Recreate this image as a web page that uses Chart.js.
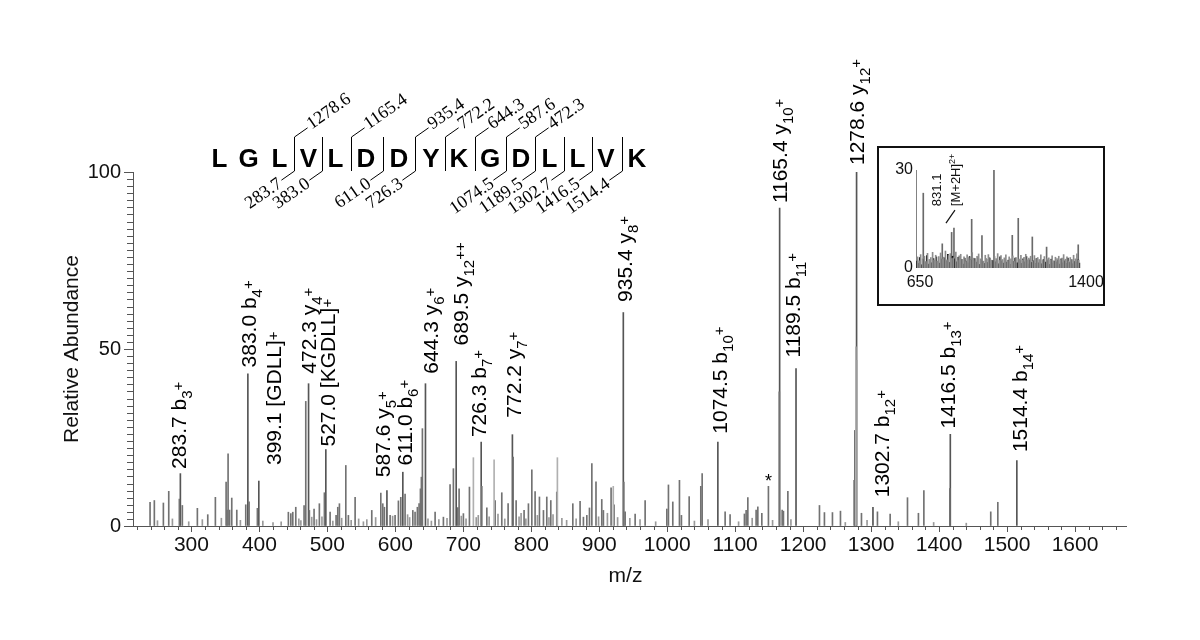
<!DOCTYPE html>
<html>
<head>
<meta charset="utf-8">
<script src="https://cdn.jsdelivr.net/npm/chart.js@4.4.1/dist/chart.umd.min.js"></script>
<style>
  html, body { margin: 0; padding: 0; background: #fff; }
  #wrap { position: relative; width: 1200px; height: 640px; }
  #main { position: absolute; left: 0; top: 0; }
  #inset { position: absolute; left: 877px; top: 146px; }
</style>
</head>
<body>
<div id="wrap">
  <canvas id="main" width="1200" height="640"></canvas>
  <canvas id="inset" width="228" height="160"></canvas>
</div>
<script>
const SANS = '"Liberation Sans", Arial, sans-serif';
const SERIF = '"Liberation Serif", "Times New Roman", serif';

// labelled fragment ions (m/z, relative abundance, label)
const ionMz = [283.7, 383.0, 399.1, 472.3, 497.7, 587.6, 611.0, 644.3, 689.5, 726.3, 772.2, 935.4, 1074.5, 1165.4, 1189.5, 1278.6, 1302.7, 1416.5, 1514.4];
const ionAbund = [14.8, 43.0, 12.7, 40.2, 21.6, 10.0, 15.2, 40.2, 46.5, 23.7, 25.8, 60.3, 23.7, 89.8, 44.5, 100, 5.3, 25.9, 18.5];
const ionLabels = ['283.7 b_3^+', '383.0 b_4^+', '399.1 [GDLL]^+', '472.3 y_4^+', '527.0 [KGDLL]^+', '587.6 y_5^+', '611.0 b_6^+',
  '644.3 y_6^+', '689.5 y_12^++', '726.3 b_7^+', '772.2 y_7^+', '935.4 y_8^+', '1074.5 b_10^+', '1165.4 y_10^+', '1189.5 b_11^+',
  '1278.6 y_12^+', '1302.7 b_12^+', '1416.5 b_13^+', '1514.4 b_14^+'];

// other peaks
const otherMz = [239.1, 245.4, 258.7, 266.6, 282.2, 286.6, 308.7, 324.0, 335.2, 351.0, 352.4, 353.9, 356.1, 359.3, 366.7, 379.9, 384.8, 397.0,
  442.6, 446.2, 449.1, 453.5, 465.7, 468.2, 473.5, 480.4, 488.2, 495.6, 504.0, 512.8, 515.3, 517.7, 527.1, 530.9, 540.8, 565.3,
  578.6, 581.5, 583.9, 592.3, 599.6, 604.5, 608.0, 614.3, 625.7, 629.0, 632.4, 634.9, 636.9, 638.3, 639.8, 658.5, 670.7, 680.5,
  685.4, 691.9, 693.8, 700.1, 709.0, 727.2, 734.6, 746.8, 756.6, 765.9, 773.3, 777.7, 789.4, 795.8, 800.8, 805.6, 812.0,
  817.9, 822.8, 828.7, 837.5, 861.1, 871.8, 876.7, 881.7, 885.6, 889.1, 895.2, 903.7, 906.1, 917.4, 921.8, 936.1, 938.1,
  952.8, 967.5, 999.4, 1001.8, 1008.2, 1018.0, 1020.9, 1032.3, 1049.4, 1051.4, 1085.2, 1092.5, 1113.6, 1116.1, 1118.6, 1130.8,
  1133.3, 1139.2, 1148.9, 1164.9, 1169.1, 1171.0, 1177.5, 1224.0, 1231.3, 1243.1, 1254.9, 1275.0, 1276.0, 1278.2, 1285.8,
  1309.3, 1328.0, 1353.5, 1369.6, 1377.6, 1415.8, 1476.0, 1486.4];
const otherAbund = [6.7, 7.2, 6.5, 9.8, 7.6, 5.8, 5.0, 3.2, 8.1, 12.4, 4.5, 20.4, 4.5, 7.9, 4.5, 6.0, 6.8, 5.0,
  3.9, 3.5, 3.9, 5.3, 5.8, 35.2, 4.4, 4.8, 6.3, 9.4, 3.9, 3.0, 5.3, 6.3, 17.1, 3.0, 8.1, 4.4,
  9.3, 6.3, 5.3, 3.0, 3.0, 7.1, 8.1, 9.0, 4.4, 3.9, 5.3, 6.3, 10.5, 13.8, 27.5, 3.9, 2.5, 11.7,
  16.2, 5.2, 10.5, 3.5, 11.0, 11.2, 5.1, 7.2, 9.4, 6.3, 19.5, 7.2, 4.4, 6.3, 15.9, 9.7, 8.2,
  4.4, 8.2, 7.2, 9.6, 6.3, 7.0, 2.5, 3.0, 5.1, 17.6, 12.5, 7.5, 4.4, 10.8, 6.0, 12.4, 4.0,
  3.4, 7.2, 4.8, 11.6, 6.8, 12.9, 3.0, 8.3, 11.2, 14.8, 4.0, 3.2, 3.4, 4.4, 8.0, 4.5,
  5.4, 3.6, 11.2, 37.9, 4.5, 4.2, 9.8, 5.8, 3.8, 3.8, 4.2, 12.9, 27.0, 46.8, 3.6,
  4.0, 3.4, 8.0, 3.6, 10.0, 10.6, 4.0, 6.7];

// lighter grey peaks
const lightMz = [714.8, 745.3, 838.4, 920.6, 1277.5];
const lightAbund = [19.3, 18.7, 19.3, 11.2, 50.6];

// small baseline peaks
const smallMz = [250, 272, 296, 316, 344, 372, 405, 420, 432, 458, 461, 477, 484, 492, 508, 521, 535, 546, 553, 558, 571, 596, 618, 621,
  648, 653, 664, 676, 697, 704, 719, 722, 738, 751, 761, 782, 785, 792, 809, 826, 832, 845, 852, 866, 899, 912, 927, 945, 960,
  983, 1040, 1060, 1105, 1125, 1155, 1182, 1262, 1294, 1340, 1392, 1440];
const smallAbund = [1.5, 2.0, 1.2, 1.8, 2.2, 1.6, 1.4, 1.0, 1.2, 2.0, 1.5, 2.5, 1.8, 2.6, 1.4, 2.2, 1.6, 2.0, 1.2, 1.8, 2.4, 2.8, 3.2, 2.4,
  2.0, 1.4, 1.8, 2.2, 2.8, 2.0, 2.4, 3.0, 2.6, 3.4, 2.0, 2.6, 3.6, 2.0, 3.0, 2.4, 3.2, 2.2, 1.6, 2.0, 2.6, 3.6, 2.4, 2.2, 1.8,
  1.2, 1.4, 1.8, 1.2, 2.2, 1.6, 1.8, 1.0, 1.6, 1.2, 1.0, 0.8];

const starMz = 1148.9;
const starAbund = 11.2;

const xTicks = [300, 400, 500, 600, 700, 800, 900, 1000, 1100, 1200, 1300, 1400, 1500, 1600];
const yTicks = [0, 50, 100];

// peptide sequence and fragment ladder
const sequence = 'LGLVLDDYKGDLLVK';
const bIonSite = [3, 4, 6, 7, 10, 11, 12, 13, 14];
const bIonMz = ['283.7', '383.0', '611.0', '726.3', '1074.5', '1189.5', '1302.7', '1416.5', '1514.4'];
const yIonSite = [3, 5, 7, 8, 9, 10, 11];
const yIonMz = ['1278.6', '1165.4', '935.4', '772.2', '644.3', '587.6', '472.3'];

// inset: survey spectrum 650-1400
const insetMz = [650, 682.9, 768.7, 811, 821.5, 901.5, 948, 1002.2, 1085, 1112, 1175.5, 1240, 1383];
const insetAbund = [30, 22.9, 7.4, 10.9, 12.2, 14.9, 9.9, 30.8, 10, 15.2, 9.5, 6.4, 7.1];
const insetDarkMz = [654, 661, 667, 676, 684, 691, 699, 706, 713, 721, 729, 735, 742, 750, 757, 764, 772, 779, 786, 794,
  801, 808, 815, 826, 834, 841, 848, 856, 863, 870, 877, 885, 892, 899, 908, 915, 922, 930, 937, 944,
  952, 959, 966, 973, 981, 988, 996, 1008, 1015, 1023, 1030, 1038, 1045, 1052, 1060, 1067, 1075, 1091, 1098, 1106,
  1120, 1127, 1134, 1142, 1149, 1157, 1164, 1171, 1181, 1188, 1196, 1203, 1211, 1218, 1226, 1233, 1246, 1253, 1261, 1268,
  1276, 1283, 1291, 1298, 1306, 1313, 1321, 1328, 1336, 1343, 1351, 1358, 1366, 1373, 1380, 1388];
const insetDarkAbund = [2.1, 1.4, 3.2, 1.0, 2.6, 1.8, 3.8, 1.2, 2.4, 1.6, 2.9, 1.1, 3.4, 2.0, 1.5, 2.7, 1.3, 3.1, 2.2, 4.2,
  1.7, 2.5, 3.6, 2.8, 1.9, 3.3, 1.4, 2.6, 1.2, 3.0, 2.1, 1.6, 3.5, 2.4, 1.3, 2.9, 1.8, 3.2, 1.1, 2.5,
  2.0, 1.4, 2.8, 1.7, 3.1, 1.2, 2.3, 1.9, 2.6, 1.3, 3.4, 2.2, 1.5, 2.7, 1.8, 2.4, 1.1, 2.0, 3.0, 1.6,
  2.3, 1.4, 2.8, 1.9, 3.5, 1.2, 2.5, 1.7, 2.2, 1.4, 2.9, 1.6, 2.0, 1.3, 2.6, 1.8, 2.3, 1.1, 2.7, 1.5,
  2.1, 1.9, 2.4, 1.2, 2.8, 1.6, 2.2, 1.4, 3.0, 1.7, 2.5, 1.3, 2.0, 1.8, 2.6, 1.5];
const insetGreyMz = [657, 664, 671, 680, 688, 695, 702, 710, 717, 725, 732, 739, 746, 753, 761, 768, 775, 783, 790, 797,
  805, 812, 819, 830, 838, 845, 852, 859, 867, 874, 881, 889, 896, 904, 911, 919, 926, 933, 941, 948,
  955, 963, 970, 977, 985, 992, 1005, 1012, 1019, 1027, 1034, 1041, 1049, 1056, 1064, 1071, 1079, 1087, 1094, 1102,
  1116, 1124, 1131, 1138, 1146, 1153, 1160, 1168, 1177, 1185, 1192, 1200, 1207, 1214, 1222, 1230, 1242, 1250, 1257, 1265,
  1272, 1280, 1287, 1295, 1302, 1310, 1317, 1325, 1332, 1340, 1347, 1355, 1362, 1370, 1377, 1385];
const insetGreyAbund = [3.4, 2.2, 4.1, 2.8, 3.6, 2.0, 4.5, 2.6, 3.2, 4.8, 2.4, 3.9, 2.1, 3.5, 4.6, 2.7, 3.3, 5.2, 2.5, 3.8,
  4.4, 2.9, 3.1, 4.9, 2.3, 3.7, 4.2, 2.6, 3.4, 2.0, 4.0, 3.2, 2.5, 4.7, 3.0, 2.2, 3.6, 4.3, 2.8, 3.3,
  2.1, 3.9, 2.7, 4.1, 3.0, 2.4, 3.5, 2.9, 4.4, 2.3, 3.8, 2.6, 3.1, 4.0, 2.2, 3.4, 2.8, 3.7, 2.0, 3.2,
  2.7, 3.9, 2.4, 3.3, 4.2, 2.5, 3.0, 3.6, 2.1, 3.8, 2.9, 3.2, 2.6, 4.0, 2.3, 3.5, 2.8, 3.1, 2.4, 3.7,
  2.2, 3.3, 2.9, 3.6, 2.5, 3.0, 4.1, 2.7, 3.4, 2.1, 3.2, 2.6, 3.9, 2.8, 4.3, 2.4];
const precursorMz = 821.5;
const precursorAbund = 12.2;

// label placement (pixels): horizontal offset of text from its peak and gap above peak
const ionLabelDx = [-1.7, 0.6, 15, 0.3, 2, -4.3, 2, 4.6, 4, -2.8, 0.7, 1, 1.8, 0, -3.4, 0, 8.5, -2.7, 2.2];
const ionLabelGap = [4.7, 6.3, 16, 10, 3, 13.4, 6.8, 10, 16, 5, 17, 10.6, 8.4, 5, 11, 7, 10, 5.7, 8.4];
const seqX = [219.5, 248.5, 279.5, 308.5, 335.5, 366, 399, 431, 459, 490, 521, 549.5, 577.5, 606, 637];

const toPoints = (mz, ab) => mz.map((m, i) => ({ x: m, y: ab[i] }));
const plainNumber = v => String(v);

function parseLabel(s) {
  const m = s.match(/^([^_^]*)(?:_([^^]*))?(?:\^(.*))?$/);
  return { main: m[1], sub: m[2] || '', sup: m[3] || '' };
}

const whiteBg = {
  id: 'whiteBg',
  beforeDraw(chart) {
    const ctx = chart.ctx;
    ctx.save();
    ctx.fillStyle = '#fff';
    ctx.fillRect(0, 0, chart.width, chart.height);
    ctx.restore();
  }
};

// tick marks: major + minor
const axisTicks = {
  id: 'axisTicks',
  afterDraw(chart) {
    const { ctx } = chart;
    const x = chart.scales.x, y = chart.scales.y;
    ctx.save();
    ctx.strokeStyle = '#555';
    ctx.lineWidth = 1;
    ctx.beginPath();
    for (let v = 220; v <= x.max; v += 20) {
      const px = Math.round(x.getPixelForValue(v)) + 0.5;
      const len = v % 100 === 0 ? 6 : 4;
      ctx.moveTo(px, y.bottom);
      ctx.lineTo(px, y.bottom + len);
    }
    for (let v = 0; v <= 100; v += 2) {
      const py = Math.round(y.getPixelForValue(v)) + 0.5;
      const len = v % 50 === 0 ? 9 : 6;
      ctx.moveTo(x.left - len, py);
      ctx.lineTo(x.left, py);
    }
    ctx.stroke();

    // axis titles
    ctx.fillStyle = '#111';
    ctx.font = `21px ${SANS}`;
    ctx.textAlign = 'center';
    ctx.textBaseline = 'middle';
    ctx.fillText('m/z', (x.left + x.right) / 2 - 4, 576);
    ctx.translate(72, (y.top + y.bottom) / 2);
    ctx.rotate(-Math.PI / 2);
    ctx.fillText('Relative Abundance', 0, 0);
    ctx.restore();
  }
};

const peakLabels = {
  id: 'peakLabels',
  afterDatasetsDraw(chart) {
    const { ctx } = chart;
    const x = chart.scales.x, y = chart.scales.y;
    ctx.save();
    ctx.fillStyle = '#000';
    ctx.textAlign = 'left';
    ctx.textBaseline = 'alphabetic';
    ionLabels.forEach((s, i) => {
      const p = parseLabel(s);
      const px = x.getPixelForValue(ionMz[i]) + ionLabelDx[i] + 7.5;
      const py = y.getPixelForValue(ionAbund[i]) - ionLabelGap[i];
      ctx.save();
      ctx.translate(px, py);
      ctx.rotate(-Math.PI / 2);
      ctx.font = `21px ${SANS}`;
      ctx.fillText(p.main, 0, 0);
      let u = ctx.measureText(p.main).width;
      ctx.font = `15px ${SANS}`;
      if (p.sub) { ctx.fillText(p.sub, u, 6); u += ctx.measureText(p.sub).width; }
      if (p.sup) { ctx.fillText(p.sup, u, -3); }
      ctx.restore();
    });
    // asterisk
    ctx.font = `18px ${SANS}`;
    ctx.textAlign = 'center';
    ctx.fillText('*', x.getPixelForValue(starMz), y.getPixelForValue(starAbund) + 1);
    ctx.restore();
  }
};

const sequenceLadder = {
  id: 'sequenceLadder',
  afterDraw(chart) {
    const { ctx } = chart;
    const top = 137, bottom = 171, L = 16, a = 35 * Math.PI / 180;
    ctx.save();
    ctx.fillStyle = '#000';
    ctx.font = `bold 26px ${SANS}`;
    ctx.textAlign = 'center';
    ctx.textBaseline = 'alphabetic';
    sequence.split('').forEach((c, i) => ctx.fillText(c, seqX[i], 167));

    const siteX = k => (seqX[k - 1] + seqX[k]) / 2;
    const sites = new Set([...bIonSite, ...yIonSite]);
    ctx.strokeStyle = '#000';
    ctx.lineWidth = 1;
    ctx.beginPath();
    sites.forEach(k => {
      const bx = Math.round(siteX(k)) + 0.5;
      ctx.moveTo(bx, top);
      ctx.lineTo(bx, bottom);
    });
    ctx.stroke();

    ctx.font = `18px ${SERIF}`;
    ctx.textBaseline = 'middle';
    yIonSite.forEach((k, i) => {
      const bx = Math.round(siteX(k)) + 0.5;
      const ex = bx + L * Math.cos(a), ey = top - L * Math.sin(a);
      ctx.beginPath(); ctx.moveTo(bx, top); ctx.lineTo(ex, ey); ctx.stroke();
      ctx.save();
      ctx.translate(ex, ey);
      ctx.rotate(-a);
      ctx.textAlign = 'left';
      ctx.fillText(yIonMz[i], 2, -1);
      ctx.restore();
    });
    bIonSite.forEach((k, i) => {
      const bx = Math.round(siteX(k)) + 0.5;
      const ex = bx - L * Math.cos(a), ey = bottom + L * Math.sin(a);
      ctx.beginPath(); ctx.moveTo(bx, bottom); ctx.lineTo(ex, ey); ctx.stroke();
      ctx.save();
      ctx.translate(ex, ey);
      ctx.rotate(-a);
      ctx.textAlign = 'right';
      ctx.fillText(bIonMz[i], -2, 1);
      ctx.restore();
    });
    ctx.restore();
  }
};

const barDefaults = { barThickness: 1, grouped: false, borderWidth: 0 };

new Chart(document.getElementById('main'), {
  type: 'bar',
  data: {
    datasets: [
      { data: toPoints(smallMz, smallAbund), backgroundColor: '#999', ...barDefaults },
      { data: toPoints(lightMz, lightAbund), backgroundColor: '#b0b0b0', ...barDefaults },
      { data: toPoints(otherMz, otherAbund), backgroundColor: '#727272', ...barDefaults },
      { data: toPoints(ionMz, ionAbund), backgroundColor: '#555', ...barDefaults }
    ]
  },
  options: {
    responsive: false,
    animation: false,
    devicePixelRatio: 1,
    layout: { padding: { left: 0, top: 172, right: 74, bottom: 0 } },
    plugins: { legend: { display: false }, tooltip: { enabled: false } },
    scales: {
      x: {
        type: 'linear', min: 214, max: 1675, offset: false,
        afterBuildTicks: s => { s.ticks = xTicks.map(v => ({ value: v })); },
        afterFit: s => { s.height = 114; },
        grid: { display: true, drawOnChartArea: false, drawTicks: false },
        border: { color: '#555', width: 1 },
        ticks: { font: { size: 21, family: SANS }, color: '#111', padding: 7, maxRotation: 0, autoSkip: false, callback: plainNumber }
      },
      y: {
        min: 0, max: 100,
        afterBuildTicks: s => { s.ticks = yTicks.map(v => ({ value: v })); },
        afterFit: s => { s.width = 133; },
        grid: { display: true, drawOnChartArea: false, drawTicks: false },
        border: { color: '#555', width: 1 },
        ticks: { font: { size: 20, family: SANS }, color: '#111', padding: 12, callback: plainNumber }
      }
    }
  },
  plugins: [whiteBg, axisTicks, peakLabels, sequenceLadder]
});

const insetFrame = {
  id: 'insetFrame',
  afterDraw(chart) {
    const { ctx } = chart;
    const x = chart.scales.x, y = chart.scales.y;
    ctx.save();
    ctx.strokeStyle = '#111';
    ctx.lineWidth = 2;
    ctx.strokeRect(1, 1, chart.width - 2, chart.height - 2);
    // [M+2H]2+ annotation
    const px = x.getPixelForValue(precursorMz), py = y.getPixelForValue(precursorAbund);
    ctx.lineWidth = 1.2;
    ctx.beginPath();
    ctx.moveTo(px - 8, py - 5);
    ctx.lineTo(px + 1, py - 18);
    ctx.stroke();
    ctx.fillStyle = '#111';
    ctx.font = `13px ${SANS}`;
    ctx.textAlign = 'left';
    ctx.textBaseline = 'alphabetic';
    ctx.save();
    ctx.translate(px - 13, py - 22);
    ctx.rotate(-Math.PI / 2);
    ctx.fillText('831.1', 0, 0);
    ctx.restore();
    ctx.save();
    ctx.translate(px + 6, py - 22);
    ctx.rotate(-Math.PI / 2);
    ctx.fillText('[M+2H]', 0, 0);
    const w = ctx.measureText('[M+2H]').width;
    ctx.font = `9px ${SANS}`;
    ctx.fillText('2+', w, -5);
    ctx.restore();
    ctx.restore();
  }
};

new Chart(document.getElementById('inset'), {
  type: 'bar',
  data: {
    datasets: [
      { data: toPoints(insetGreyMz, insetGreyAbund), backgroundColor: '#8c8c8c', ...barDefaults },
      { data: toPoints(insetDarkMz, insetDarkAbund), backgroundColor: '#111', ...barDefaults },
      { data: toPoints(insetMz, insetAbund), backgroundColor: '#6a6a6a', ...barDefaults }
    ]
  },
  options: {
    responsive: false,
    animation: false,
    devicePixelRatio: 1,
    layout: { padding: { left: 0, top: 24, right: 23, bottom: 0 } },
    plugins: { legend: { display: false }, tooltip: { enabled: false } },
    scales: {
      x: {
        type: 'linear', min: 650, max: 1400, offset: false,
        afterBuildTicks: s => { s.ticks = [650, 1400].map(v => ({ value: v })); },
        afterFit: s => { s.height = 38; },
        grid: { display: false, drawTicks: false },
        border: { display: false },
        ticks: { font: { size: 16, family: SANS }, color: '#111', padding: 5, labelOffset: 4, maxRotation: 0, autoSkip: false, callback: plainNumber }
      },
      y: {
        min: 0, max: 30,
        afterBuildTicks: s => { s.ticks = [0, 30].map(v => ({ value: v })); },
        afterFit: s => { s.width = 39; },
        grid: { display: false, drawTicks: false },
        border: { display: false },
        ticks: { font: { size: 16, family: SANS }, color: '#111', padding: 3, callback: plainNumber }
      }
    }
  },
  plugins: [whiteBg, insetFrame]
});
</script>
</body>
</html>
